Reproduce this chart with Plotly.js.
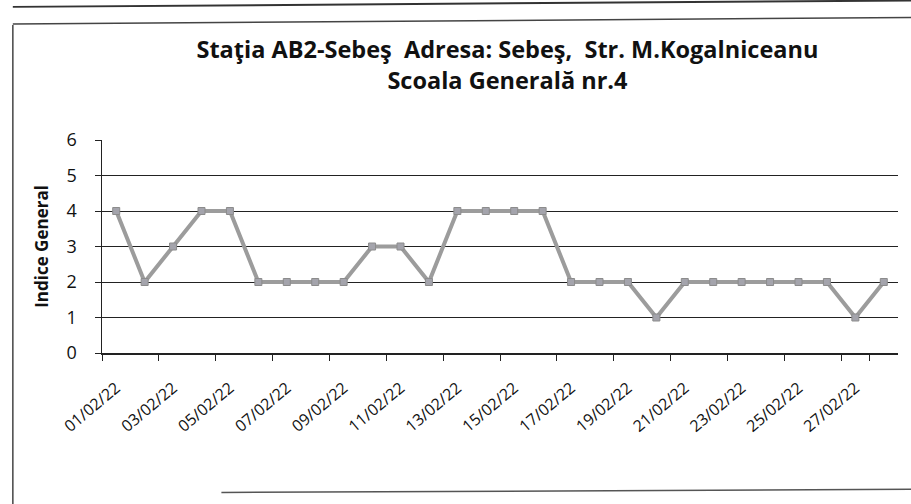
<!DOCTYPE html>
<html>
<head>
<meta charset="utf-8">
<script src="https://cdn.plot.ly/plotly-3.0.1.min.js"></script>
<style>
html,body{margin:0;padding:0;background:#fff;}
#chart{width:911px;height:504px;}
</style>
</head>
<body>
<div id="chart"></div>
<script>
const dates = ["01/02/22","02/02/22","03/02/22","04/02/22","05/02/22","06/02/22","07/02/22",
  "08/02/22","09/02/22","10/02/22","11/02/22","12/02/22","13/02/22","14/02/22",
  "15/02/22","16/02/22","17/02/22","18/02/22","19/02/22","20/02/22","21/02/22",
  "22/02/22","23/02/22","24/02/22","25/02/22","26/02/22","27/02/22","28/02/22"];
const indiceGeneral = [4,2,3,4,4,2,2,2,2,3,3,2,4,4,4,4,2,2,2,1,2,2,2,2,2,2,1,2];
const yTicks = [0,1,2,3,4,5,6];
const labelDates = dates.filter((d,i)=>i%2===0);

const FONT = "Open Sans, Noto Sans, sans-serif";

const trace = {
  x: dates, y: indiceGeneral, type: "scatter", mode: "lines+markers",
  line: {color: "#9c9c9c", width: 4},
  marker: {symbol: "square", size: 7, color: "#a4a4ac", line: {color: "#8c8c8c", width: 1}},
  showlegend: false, hoverinfo: "skip"
};

const layout = {
  width: 911, height: 504,
  paper_bgcolor: "#fff", plot_bgcolor: "#fff",
  margin: {l: 102, r: 13, t: 140, b: 151},
  font: {family: FONT, color: "#111"},
  title: {
    text: "<b>Staţia AB2-Sebeş  Adresa: Sebeş,  Str. M.Kogalniceanu</b><br><b>Scoala Generală nr.4</b>",
    x: 0.557, xanchor: "center", y: 0.885, yanchor: "top",
    font: {family: FONT, size: 23.5, color: "#111"}
  },
  xaxis: {
    type: "category",
    tickmode: "array", tickvals: labelDates, ticktext: labelDates,
    tickson: "boundaries",
    tickangle: -40, tickfont: {family: FONT, size: 16, color: "#111"},
    ticklabelstandoff: 18,
    showgrid: false, showline: true, linecolor: "#222", linewidth: 1.5,
    ticks: "outside", ticklen: 6, tickcolor: "#222",
    range: [-0.5, 27.5], zeroline: false, automargin: false
  },
  yaxis: {
    range: [0, 6], tickmode: "array", tickvals: yTicks,
    tickfont: {family: FONT, size: 18, color: "#111"},
    ticklabelstandoff: 14,
    showgrid: true, gridcolor: "#222", gridwidth: 1,
    showline: true, linecolor: "#222", linewidth: 1.5,
    ticks: "outside", ticklen: 6, tickcolor: "#222",
    zeroline: false, automargin: false,
    title: {text: "<b>Indice General</b>", font: {family: FONT, size: 17, color: "#111"}, standoff: 13}
  },
  shapes: [
    {type: "line", xref: "paper", yref: "paper", x0: -0.112, x1: -0.112, y0: -0.72, y1: 1.54, line: {color: "#444", width: 1.5}},
    {type: "line", xref: "paper", yref: "paper", x0: -0.112, x1: 1.02, y0: 1.545, y1: 1.575, line: {color: "#444", width: 1.5}},
    {type: "line", xref: "paper", yref: "paper", x0: -0.112, x1: 1.02, y0: 1.625, y1: 1.655, line: {color: "#333", width: 2}},
    {type: "line", xref: "paper", yref: "paper", x0: 0.15, x1: 1.02, y0: -0.655, y1: -0.64, line: {color: "#555", width: 1.5}}
  ]
};

Plotly.newPlot("chart", [trace], layout, {displayModeBar: false, staticPlot: true});
</script>
</body>
</html>
